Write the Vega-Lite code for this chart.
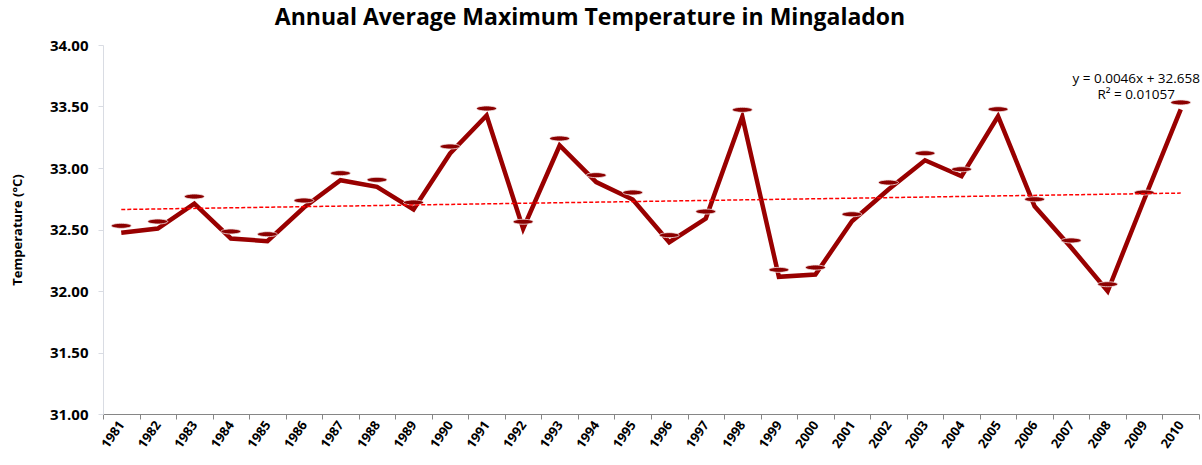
{
  "$schema": "https://vega.github.io/schema/vega-lite/v6.json",
  "width": 1096,
  "height": 369,
  "autosize": "none",
  "padding": {"left": 103, "top": 45, "right": 3, "bottom": 51},
  "background": "white",
  "config": {"view": {"stroke": null}, "font": "Open Sans"},
  "title": {
    "text": "Annual Average Maximum Temperature in Mingaladon",
    "fontSize": 23,
    "fontWeight": "bold",
    "font": "Open Sans",
    "color": "#000000",
    "anchor": "middle",
    "dx": -61,
    "offset": 8
  },
  "datasets": {
    "temps": [
      {"Year": 1981, "Temp": 32.473},
      {"Year": 1982, "Temp": 32.508},
      {"Year": 1983, "Temp": 32.711},
      {"Year": 1984, "Temp": 32.427},
      {"Year": 1985, "Temp": 32.405},
      {"Year": 1986, "Temp": 32.679},
      {"Year": 1987, "Temp": 32.901},
      {"Year": 1988, "Temp": 32.847},
      {"Year": 1989, "Temp": 32.663},
      {"Year": 1990, "Temp": 33.118},
      {"Year": 1991, "Temp": 33.427},
      {"Year": 1992, "Temp": 32.506},
      {"Year": 1993, "Temp": 33.183},
      {"Year": 1994, "Temp": 32.885},
      {"Year": 1995, "Temp": 32.744},
      {"Year": 1996, "Temp": 32.397},
      {"Year": 1997, "Temp": 32.589},
      {"Year": 1998, "Temp": 33.416},
      {"Year": 1999, "Temp": 32.115},
      {"Year": 2000, "Temp": 32.134},
      {"Year": 2001, "Temp": 32.567},
      {"Year": 2002, "Temp": 32.825},
      {"Year": 2003, "Temp": 33.063},
      {"Year": 2004, "Temp": 32.933},
      {"Year": 2005, "Temp": 33.421},
      {"Year": 2006, "Temp": 32.689},
      {"Year": 2007, "Temp": 32.354},
      {"Year": 2008, "Temp": 31.998},
      {"Year": 2009, "Temp": 32.744},
      {"Year": 2010, "Temp": 33.476}
    ],
    "trend": [
      {"Year": 1981, "Temp": 32.6626},
      {"Year": 2010, "Temp": 32.796}
    ],
    "eq": [
      {"Year": 2009, "Temp": 33.725, "label": "y = 0.0046x + 32.658"},
      {"Year": 2009, "Temp": 33.59, "label": "R² = 0.01057"}
    ]
  },
  "encoding": {
    "x": {
      "field": "Year",
      "type": "ordinal",
      "scale": {"type": "band", "paddingInner": 0, "paddingOuter": 0},
      "axis": {
        "title": null,
        "tickBand": "extent",
        "labelAngle": -55,
        "labelFont": "Open Sans",
        "labelFontSize": 13,
        "labelFontWeight": "bold",
        "labelColor": "#000000",
        "domainColor": "#868686",
        "tickColor": "#868686",
        "tickSize": 5,
        "labelPadding": 3,
        "grid": false
      }
    },
    "y": {
      "field": "Temp",
      "type": "quantitative",
      "scale": {"domain": [31, 34], "zero": false, "nice": false},
      "axis": {
        "title": "Temperature (°C)",
        "values": [31, 31.5, 32, 32.5, 33, 33.5, 34],
        "format": ".2f",
        "grid": false,
        "labelFont": "Open Sans",
        "labelFontSize": 15,
        "labelFontWeight": "bold",
        "labelColor": "#000000",
        "domainColor": "#D9DCE3",
        "tickColor": "#D9DCE3",
        "tickSize": 5,
        "labelPadding": 10,
        "titleFont": "Open Sans",
        "titleFontSize": 13,
        "titleFontWeight": "bold",
        "titleColor": "#000000",
        "titlePadding": 25
      }
    }
  },
  "layer": [
    {
      "data": {"name": "temps"},
      "mark": {"type": "line", "color": "#990000", "strokeWidth": 4.5, "strokeJoin": "miter"}
    },
    {
      "data": {"name": "temps"},
      "mark": {
        "type": "point",
        "shape": "M-1,0A1,0.25 0 1,1 1,0A1,0.25 0 1,1 -1,0Z",
        "size": 400,
        "filled": true,
        "color": "#8b0000",
        "opacity": 1,
        "yOffset": -7,
        "stroke": "#f4e6e6",
        "strokeWidth": 0.8
      }
    },
    {
      "data": {"name": "trend"},
      "mark": {"type": "line", "color": "#ff0000", "strokeWidth": 1.5, "strokeDash": [4, 2]}
    },
    {
      "data": {"name": "eq"},
      "mark": {"type": "text", "font": "Open Sans", "fontSize": 13.5, "color": "#000000", "align": "center", "dx": -8},
      "encoding": {"text": {"field": "label", "type": "nominal"}}
    }
  ]
}
